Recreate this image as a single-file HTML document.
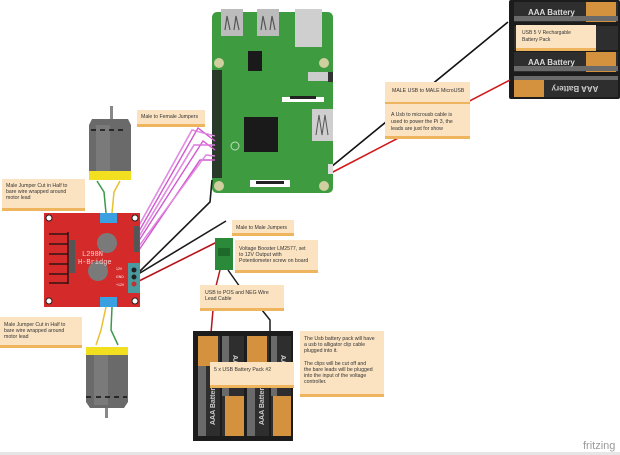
<!DOCTYPE html>
<html><head><meta charset="utf-8"><style>
html,body{margin:0;padding:0;background:#fff;width:620px;height:455px;overflow:hidden}
svg{display:block;font-family:"Liberation Sans",sans-serif}
</style></head><body>
<svg width="620" height="455" viewBox="0 0 620 455" xmlns="http://www.w3.org/2000/svg">
<rect x="0" y="452" width="620" height="3" fill="#e6e6e6"/>
<text x="583" y="449" font-size="11" fill="#9a9a9a">fritzing</text>

<!-- Top right battery pack -->
<rect x="509" y="0" width="111" height="99" rx="2" fill="#1c1c1c"/>
<g>
<rect x="514" y="2" width="104" height="20" fill="#2e2e2e"/><rect x="586" y="2" width="30" height="20" fill="#d4913e"/><rect x="514" y="16" width="104" height="5" fill="#6a6a6a"/>
<text x="528" y="15" font-size="8" font-weight="bold" fill="#ddd">AAA Battery</text>
<rect x="514" y="26" width="104" height="24" fill="#2e2e2e"/>
<rect x="514" y="52" width="104" height="20" fill="#2e2e2e"/><rect x="586" y="52" width="30" height="20" fill="#d4913e"/><rect x="514" y="66" width="104" height="5" fill="#6a6a6a"/>
<text x="528" y="65" font-size="8" font-weight="bold" fill="#ddd">AAA Battery</text>
<rect x="514" y="76" width="104" height="21" fill="#2e2e2e"/><rect x="514" y="76" width="30" height="21" fill="#d4913e"/><rect x="514" y="76" width="104" height="4" fill="#6a6a6a"/>
<text x="575" y="86" font-size="8" font-weight="bold" fill="#ccc" text-anchor="middle" transform="rotate(180 575 86)">AAA Battery</text>
</g>
<rect x="516" y="25" width="80" height="26" fill="#fbe3c2"/><rect x="516" y="48" width="80" height="3" fill="#eeb45e"/>
<text x="522" y="34" font-size="5" fill="#333">USB 5 V Rechargable</text>
<text x="522" y="41" font-size="5" fill="#333">Battery Pack</text>

<!-- Pi power wires -->
<line x1="331" y1="167" x2="508" y2="22" stroke="#111" stroke-width="1.6"/>
<line x1="331" y1="173" x2="510" y2="80" stroke="#d11a1a" stroke-width="1.6"/>

<!-- Raspberry Pi -->
<rect x="212" y="12" width="121" height="181" rx="5" fill="#3e9b3f"/>
<rect x="221" y="9" width="22" height="27" fill="#bcbcbc"/>
<path d="M225 30 L227 16 L230 30 M234 30 L236 16 L239 30" stroke="#555" fill="none" stroke-width="1.2"/>
<rect x="257" y="9" width="22" height="27" fill="#bcbcbc"/>
<path d="M261 30 L263 16 L266 30 M270 30 L272 16 L275 30" stroke="#555" fill="none" stroke-width="1.2"/>
<rect x="295" y="9" width="27" height="38" fill="#cfcfcf"/>
<rect x="248" y="51" width="14" height="20" fill="#1a1a1a"/>
<rect x="212" y="70" width="10" height="108" fill="#2a3a2a"/>
<rect x="244" y="117" width="34" height="35" fill="#1a1a1a"/>
<rect x="308" y="72" width="20" height="9" fill="#ccc"/><rect x="328" y="72" width="5" height="10" fill="#333"/>
<rect x="282" y="97" width="42" height="5" fill="#fff"/><rect x="290" y="96" width="26" height="3" fill="#222"/>
<rect x="312" y="109" width="21" height="32" fill="#cfcfcf"/>
<path d="M316 135 L319 115 L322 135 L325 115 L328 135" stroke="#555" fill="none"/>
<rect x="250" y="180" width="40" height="7" fill="#fff"/><rect x="256" y="181" width="28" height="3" fill="#222"/>
<rect x="328" y="164" width="5" height="10" fill="#ddd"/>
<circle cx="219" cy="63" r="5" fill="#cfcf9f"/><circle cx="324" cy="63" r="5" fill="#cfcf9f"/>
<circle cx="219" cy="186" r="5" fill="#cfcf9f"/><circle cx="324" cy="186" r="5" fill="#cfcf9f"/>
<circle cx="235" cy="146" r="4" fill="none" stroke="#bfe0bf"/>

<!-- notes MALE USB -->
<rect x="385" y="82" width="85" height="23" fill="#fbe3c2"/><rect x="385" y="102" width="85" height="2" fill="#eeb45e"/>
<text x="392" y="92" font-size="5.2" fill="#333">MALE USB to MALE MicroUSB</text>
<rect x="385" y="105" width="85" height="34" fill="#fbe3c2"/><rect x="385" y="136" width="85" height="3" fill="#eeb45e"/>
<text x="391" y="116" font-size="5.2" fill="#333">A Usb to microusb cable is</text>
<text x="391" y="123" font-size="5.2" fill="#333">used to power the Pi 3, the</text>
<text x="391" y="130" font-size="5.2" fill="#333">leads are just for show</text>

<!-- magenta jumpers -->
<g fill="none" stroke="#d05ad0" stroke-width="1.4">
<polyline points="137,229 192,130 215,136"/>
<polyline points="138,233 198,128 215,141"/>
<polyline points="138,238 194,145 215,145"/>
<polyline points="138,242 203,141 215,150"/>
<polyline points="139,246 206,155 215,156"/>
<polyline points="139,250 200,160 215,160"/>
</g>
<g fill="none" stroke="#f0b0f0" stroke-width="0.6">
<polyline points="137,229 192,130 215,136"/>
<polyline points="138,238 194,145 215,145"/>
<polyline points="139,246 206,155 215,156"/>
</g>
<polyline points="135,276 210,202 212,180" fill="none" stroke="#1a1a1a" stroke-width="1.6"/>
<line x1="135" y1="276" x2="226" y2="221" stroke="#1a1a1a" stroke-width="1.6"/>
<line x1="137" y1="282" x2="219" y2="241" stroke="#b5151d" stroke-width="1.6"/>

<!-- motor wires -->
<path d="M97 181 L104 192 L106 213" stroke="#3a9a4a" stroke-width="1.5" fill="none"/>
<path d="M120 181 L114 192 L112 213" stroke="#e8c030" stroke-width="1.5" fill="none"/>
<path d="M106 307 L101 330 L96 345" stroke="#e8c030" stroke-width="1.5" fill="none"/>
<path d="M112 307 L111 330 L118 345" stroke="#3a9a4a" stroke-width="1.5" fill="none"/>

<!-- top motor -->
<rect x="110" y="106" width="3" height="14" fill="#888"/>
<path d="M92 119 L128 119 L131 125 L131 172 L89 172 L89 125 Z" fill="#6a6a6a"/>
<rect x="96" y="125" width="14" height="47" fill="#7a7a7a"/>
<path d="M91 130 h5 M100 130 h5 M109 130 h5 M118 130 h5" stroke="#111" stroke-width="1.5"/>
<rect x="89" y="171" width="42" height="9" fill="#f2e020"/>
<!-- bottom motor -->
<rect x="86" y="347" width="42" height="8" fill="#f2e020"/>
<path d="M86 355 L128 355 L128 402 L124 408 L90 408 L86 402 Z" fill="#6a6a6a"/>
<rect x="94" y="355" width="14" height="50" fill="#7a7a7a"/>
<path d="M86 397 h5 M96 397 h5 M105 397 h5 M114 397 h5 M123 397 h4" stroke="#111" stroke-width="1.5"/>
<rect x="105" y="408" width="3" height="10" fill="#888"/>

<!-- L298N -->
<rect x="44" y="213" width="96" height="94" fill="#d42a2a"/>
<rect x="100" y="213" width="17" height="10" fill="#3aa0e0"/>
<rect x="100" y="297" width="17" height="10" fill="#3aa0e0"/>
<rect x="128" y="263" width="12" height="30" fill="#4a9aa0"/>
<circle cx="134" cy="270" r="2.5" fill="#222"/><circle cx="134" cy="277" r="2.5" fill="#222"/><circle cx="134" cy="284" r="2.5" fill="#b33"/>
<circle cx="49" cy="218" r="3" fill="#fff" stroke="#222"/><circle cx="135" cy="218" r="3" fill="#fff" stroke="#222"/>
<circle cx="49" cy="301" r="3" fill="#fff" stroke="#222"/><circle cx="135" cy="301" r="3" fill="#fff" stroke="#222"/>
<circle cx="107" cy="243" r="10" fill="#7a7a7a"/><circle cx="98" cy="271" r="10" fill="#7a7a7a"/>
<g stroke="#111" stroke-width="1.3"><line x1="49" y1="234" x2="68" y2="234"/><line x1="49" y1="244" x2="68" y2="244"/><line x1="49" y1="254" x2="68" y2="254"/><line x1="49" y1="264" x2="68" y2="264"/><line x1="49" y1="274" x2="68" y2="274"/><line x1="49" y1="283" x2="68" y2="283"/><line x1="68" y1="232" x2="68" y2="284"/></g>
<rect x="69" y="240" width="6" height="33" fill="#555"/>
<rect x="134" y="226" width="5" height="26" fill="#555"/>
<text x="82" y="256" font-size="7" fill="#f6d0d0" font-family="Liberation Mono,monospace">L298N</text>
<text x="78" y="264" font-size="7" fill="#f6d0d0" font-family="Liberation Mono,monospace">H-Bridge</text>
<text x="116" y="270" font-size="3.5" fill="#fff">12V</text><text x="116" y="278" font-size="3.5" fill="#fff">GND</text><text x="116" y="286" font-size="3.5" fill="#fff">+12V</text>

<!-- voltage booster -->
<rect x="215" y="238" width="18" height="32" fill="#2a8a3a"/>
<rect x="218" y="248" width="12" height="8" fill="#1d6a2a"/>
<line x1="220" y1="270" x2="215" y2="290" stroke="#b5151d" stroke-width="1.5"/>
<line x1="228" y1="270" x2="240" y2="287" stroke="#1a1a1a" stroke-width="1.5"/>
<line x1="213" y1="310" x2="211" y2="333" stroke="#b5151d" stroke-width="1.5"/>
<polyline points="262,310 270,320 270,333" fill="none" stroke="#1a1a1a" stroke-width="1.5"/>

<!-- bottom battery pack -->
<rect x="193" y="331" width="100" height="110" fill="#1c1c1c"/>
<rect x="198" y="336" width="22" height="100" fill="#2e2e2e"/><rect x="198" y="336" width="20" height="30" fill="#d4913e"/><rect x="198" y="366" width="8" height="70" fill="#6a6a6a"/>
<rect x="222" y="336" width="22" height="100" fill="#2e2e2e"/><rect x="225" y="396" width="19" height="40" fill="#d4913e"/><rect x="222" y="336" width="7" height="60" fill="#6a6a6a"/>
<rect x="247" y="336" width="22" height="100" fill="#2e2e2e"/><rect x="247" y="336" width="20" height="30" fill="#d4913e"/><rect x="247" y="366" width="8" height="70" fill="#6a6a6a"/>
<rect x="271" y="336" width="20" height="100" fill="#2e2e2e"/><rect x="273" y="396" width="18" height="40" fill="#d4913e"/><rect x="271" y="336" width="6" height="60" fill="#6a6a6a"/>
<text font-size="7" font-weight="bold" fill="#ccc" transform="translate(215 425) rotate(-90)">AAA Battery</text>
<text font-size="7" font-weight="bold" fill="#ccc" transform="translate(264 425) rotate(-90)">AAA Battery</text>
<text font-size="7" font-weight="bold" fill="#ccc" transform="translate(233 355) rotate(90)">AAA</text>
<text font-size="7" font-weight="bold" fill="#ccc" transform="translate(281 355) rotate(90)">AAA</text>

<!-- notes -->
<g font-size="5.2" fill="#333">
<rect x="137" y="110" width="68" height="17" fill="#fbe3c2"/><rect x="137" y="124" width="68" height="3" fill="#eeb45e"/>
<text x="141" y="118">Male to Female Jumpers</text>
<rect x="2" y="179" width="83" height="32" fill="#fbe3c2"/><rect x="2" y="208" width="83" height="3" fill="#eeb45e"/>
<text x="6" y="187">Male Jumper Cut in Half to</text><text x="6" y="193">bare wire wrapped around</text><text x="6" y="199">motor lead</text>
<rect x="0" y="317" width="82" height="31" fill="#fbe3c2"/><rect x="0" y="345" width="82" height="3" fill="#eeb45e"/>
<text x="4" y="326">Male Jumper Cut in Half to</text><text x="4" y="332">bare wire wrapped around</text><text x="4" y="338">motor lead</text>
<rect x="232" y="220" width="62" height="16" fill="#fbe3c2"/><rect x="232" y="233" width="62" height="3" fill="#eeb45e"/>
<text x="236" y="229">Male to Male Jumpers</text>
<rect x="235" y="240" width="83" height="33" fill="#fbe3c2"/><rect x="235" y="270" width="83" height="3" fill="#eeb45e"/>
<text x="239" y="250">Voltage Booster LM2577, set</text><text x="239" y="256">to 12V Output with</text><text x="239" y="262">Potentiometer screw on board</text>
<rect x="200" y="285" width="84" height="26" fill="#fbe3c2"/><rect x="200" y="308" width="84" height="3" fill="#eeb45e"/>
<text x="205" y="294">USB to POS and NEG Wire</text><text x="205" y="300">Lead Cable</text>
<rect x="210" y="362" width="84" height="26" fill="#fbe3c2"/><rect x="210" y="385" width="84" height="3" fill="#eeb45e"/>
<text x="214" y="371">5 x USB Battery Pack #2</text>
<rect x="300" y="331" width="84" height="66" fill="#fbe3c2"/><rect x="300" y="394" width="84" height="3" fill="#eeb45e"/>
<text x="304" y="340">The Usb battery pack will have</text><text x="304" y="346">a usb to alligator clip cable</text><text x="304" y="352">plugged into it.</text>
<text x="304" y="365">The clips will be cut off and</text><text x="304" y="371">the bare leads will be plugged</text><text x="304" y="377">into the input of the voltage</text><text x="304" y="383">controller.</text>
</g>
</svg>
</body></html>
